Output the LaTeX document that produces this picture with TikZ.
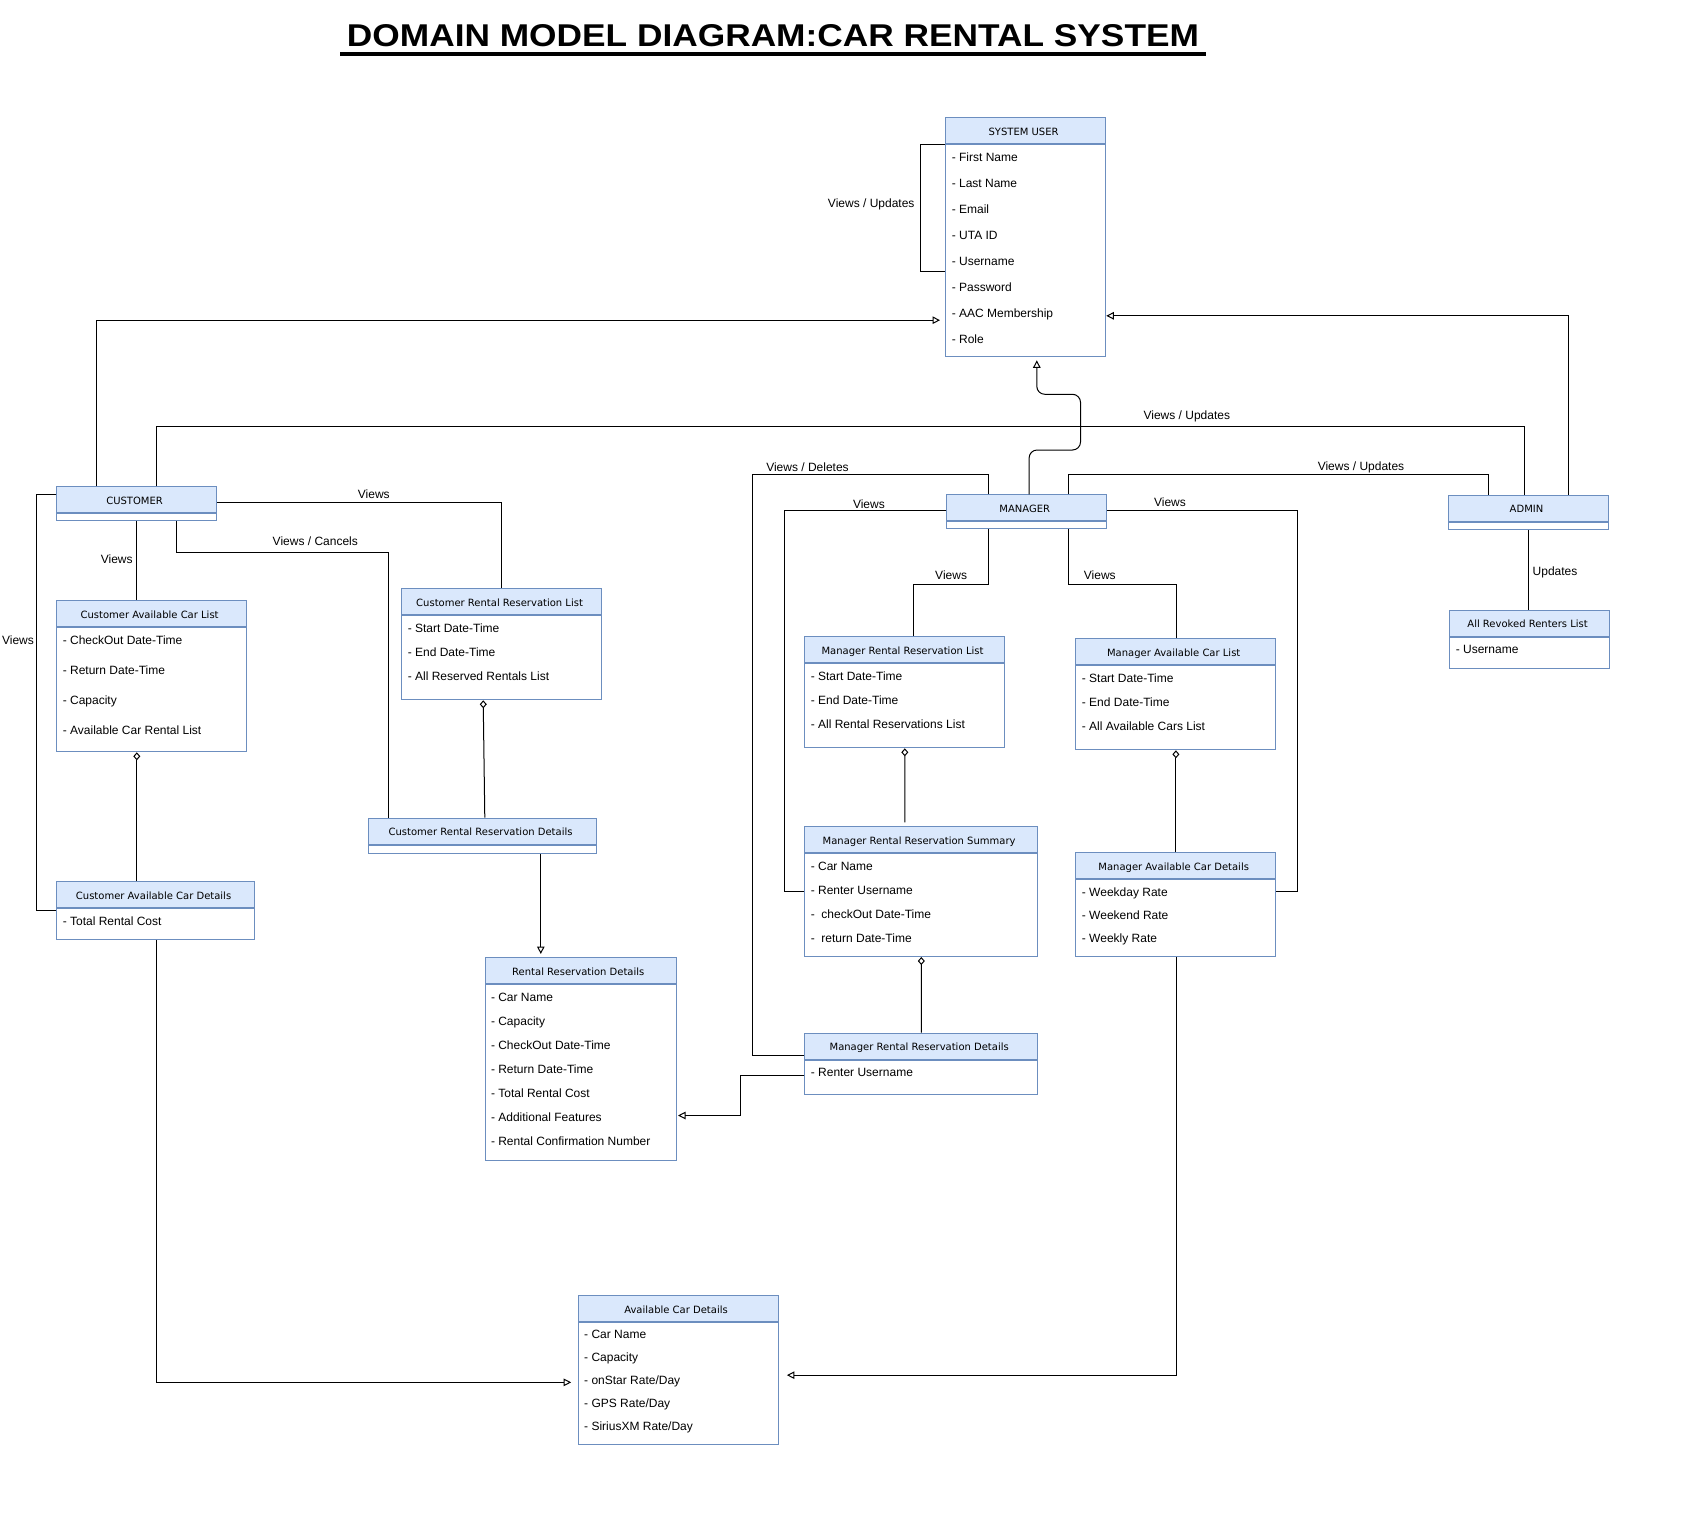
\documentclass[tikz,border=0pt]{standalone}
\usepackage{fontspec}
\setmainfont{Liberation Sans}
\newfontfamily\headfont{DejaVu Sans}
\usepackage{graphicx}
\usepackage{tikz}
\usetikzlibrary{positioning, arrows.meta}
\definecolor{umlline}{HTML}{6C8EBF}
\definecolor{umlfill}{HTML}{DAE8FC}
\tikzset{
	classhead/.style={
		draw=umlline,
		fill=umlfill,
		anchor=north west,
		inner sep=0pt,
		minimum height=26pt,
		text height=9.3pt,
		text depth=0pt,
		execute at end node={\hspace{4.4pt}},
		font={\headfont\fontsize{10}{12}\selectfont}
	},
	classbody/.style={
		draw=umlline,
		fill=white,
		inner sep=0pt,
	},
	attrs/.style={
		inner sep=0pt,
		align=left,
		font={\fontsize{12}{#1}\selectfont}
	},
	lbl/.style={
		inner sep=0pt,
		text height=8.6pt,
		text depth=0pt,
		font={\fontsize{12}{14}\selectfont}
	},
	gen/.style={-{Triangle[open,length=7.5pt,width=7.5pt]}},
	agg/.style={{Diamond[open,length=8pt,width=7pt]}-},
}

\begin{document}
\begin{tikzpicture}[x=1pt, y=-1pt, line width=1pt]
\useasboundingbox (0,0) rectangle (1694,1514);
\fill[white] (0,0) rectangle (1694,1514);

\node[anchor=base, inner xsep=6pt, inner ysep=0pt] (ttl) at (773,46.7)
	{\resizebox{852pt}{22pt}{\bfseries DOMAIN MODEL DIAGRAM:CAR RENTAL SYSTEM}};
\draw[line width=4pt] ([yshift=-7.5pt]ttl.base west) -- ([yshift=-7.5pt]ttl.base east);

% classes
\node[classhead, minimum width=160pt] (su) at (945.3,117.3) {SYSTEM USER};
\node[classbody, minimum width=160pt, minimum height=212pt, below=0pt of su] (sub) {};
\node[attrs=26, below right=-1.5pt and 6pt of sub.north west]
	{\strut- First Name\\- Last Name\\- Email\\- UTA ID\\- Username\\- Password\\- AAC Membership\\- Role};

\node[classhead, minimum width=160pt] (cust) at (56.3,486.3) {CUSTOMER};
\node[classbody, minimum width=160pt, minimum height=7pt, below=0pt of cust] (custb) {};

\node[classhead, minimum width=190pt] (cacl) at (56.3,600.3) {Customer Available Car List};
\node[classbody, minimum width=190pt, minimum height=124pt, below=0pt of cacl] (caclb) {};
\node[attrs=30, below right=-4.3pt and 6pt of caclb.north west]
	{\strut- CheckOut Date-Time\\- Return Date-Time\\- Capacity\\- Available Car Rental List};

\node[classhead, minimum width=198pt] (cacd) at (56.3,881.3) {Customer Available Car Details};
\node[classbody, minimum width=198pt, minimum height=31pt, below=0pt of cacd] (cacdb) {};
\node[attrs=24, below right=-0.1pt and 6pt of cacdb.north west] {\strut- Total Rental Cost};

\node[classhead, minimum width=200pt] (crrl) at (401.3,588.3) {Customer Rental Reservation List};
\node[classbody, minimum width=200pt, minimum height=84pt, below=0pt of crrl] (crrlb) {};
\node[attrs=24, below right=-0.5pt and 6pt of crrlb.north west]
	{\strut- Start Date-Time\\- End Date-Time\\- All Reserved Rentals List};

\node[classhead, minimum width=228pt] (crrd) at (368.3,817.7) {Customer Rental Reservation Details};
\node[classbody, minimum width=228pt, minimum height=8.6pt, below=0pt of crrd] (crrdb) {};

\node[classhead, minimum width=191pt] (rrd) at (484.5,957.3) {Rental Reservation Details};
\node[classbody, minimum width=191pt, minimum height=176pt, below=0pt of rrd] (rrdb) {};
\node[attrs=24, below right=-0.1pt and 6pt of rrdb.north west]
	{\strut- Car Name\\- Capacity\\- CheckOut Date-Time\\- Return Date-Time\\- Total Rental Cost\\- Additional Features\\- Rental Confirmation Number};

\node[classhead, minimum width=160pt] (mgr) at (946.4,494.3) {MANAGER};
\node[classbody, minimum width=160pt, minimum height=7pt, below=0pt of mgr] (mgrb) {};

\node[classhead, minimum width=200pt] (mrrl) at (804.3,636.3) {Manager Rental Reservation List};
\node[classbody, minimum width=200pt, minimum height=84pt, below=0pt of mrrl] (mrrlb) {};
\node[attrs=24, below right=-0.5pt and 6pt of mrrlb.north west]
	{\strut- Start Date-Time\\- End Date-Time\\- All Rental Reservations List};

\node[classhead, minimum width=233pt] (mrrs) at (804.3,826.3) {Manager Rental Reservation Summary};
\node[classbody, minimum width=233pt, minimum height=102.7pt, below=0pt of mrrs] (mrrsb) {};
\node[attrs=24, below right=-0.1pt and 6pt of mrrsb.north west]
	{\strut- Car Name\\- Renter Username\\-~ checkOut Date-Time\\-~ return Date-Time};

\node[classhead, minimum width=233pt] (mrrd) at (804.4,1032.7) {Manager Rental Reservation Details};
\node[classbody, minimum width=233pt, minimum height=34.6pt, below=0pt of mrrd] (mrrdb) {};
\node[attrs=24, below right=-0.1pt and 6pt of mrrdb.north west] {\strut- Renter Username};

\node[classhead, minimum width=200pt] (macl) at (1075.4,638.3) {Manager Available Car List};
\node[classbody, minimum width=200pt, minimum height=84pt, below=0pt of macl] (maclb) {};
\node[attrs=24, below right=-0.1pt and 6pt of maclb.north west]
	{\strut- Start Date-Time\\- End Date-Time\\- All Available Cars List};

\node[classhead, minimum width=200pt] (macd) at (1075.4,852.3) {Manager Available Car Details};
\node[classbody, minimum width=200pt, minimum height=76.7pt, below=0pt of macd] (macdb) {};
\node[attrs=23, below right=0.6pt and 6pt of macdb.north west]
	{\strut- Weekday Rate\\- Weekend Rate\\- Weekly Rate};

\node[classhead, minimum width=160pt] (admin) at (1448.2,494.6) {ADMIN};
\node[classbody, minimum width=160pt, minimum height=7.6pt, below=0pt of admin] (adminb) {};

\node[classhead, minimum width=160pt] (arrl) at (1449.3,609.6) {All Revoked Renters List};
\node[classbody, minimum width=160pt, minimum height=31.5pt, below=0pt of arrl] (arrlb) {};
\node[attrs=24, below right=-0.3pt and 6pt of arrlb.north west] {\strut- Username};

\node[classhead, minimum width=200pt] (acd) at (577.7,1295) {Available Car Details};
\node[classbody, minimum width=200pt, minimum height=121.7pt, below=0pt of acd] (acdb) {};
\node[attrs=23, below right=0.2pt and 6pt of acdb.north west]
	{\strut- Car Name\\- Capacity\\- onStar Rate/Day\\- GPS Rate/Day\\- SiriusXM Rate/Day};

% connectors
\draw[gen] ([xshift=-40pt]cust.north) |- ([xshift=-5.3pt,yshift=-69.4pt]sub.west);
\draw[gen] ([xshift=40pt]admin.north) |- ([yshift=-65pt]sub.east);
\draw[gen, rounded corners=8pt] ([xshift=2.2pt]mgr.north) -- ++(0,-44.3) -- ++(51.4,0)
	-- ++(0,-55.7) -- ++(-43.7,0) -- ([xshift=11pt,yshift=-3pt]sub.south);
\draw (su.south west) -- ++(-25,0) |- ([yshift=-21pt]sub.west);

\draw (custb.south) -- (custb.south |- cacl.north);
\draw ([xshift=40pt]custb.south) -- ++(0,30.7) -| ([xshift=-94pt]crrd.north);
\draw ([yshift=-3pt]cust.east) -| (crrl.north);
\draw ([yshift=5.3pt]cust.west) -- ++(-20,0) |- ([yshift=-15.7pt]cacd.west);
\draw ([xshift=20pt]cust.north) -- ++(0,-60.2) -| ([xshift=-4pt]admin.north);
\draw[agg] ([xshift=-15pt]caclb.south) -- ([xshift=-19pt]cacd.north);
\draw[gen] ([xshift=1pt]cacdb.south) |- ([xshift=-6.5pt,yshift=1pt]acdb.west);
\draw[agg] ([xshift=-18.6pt]crrlb.south) -- ([xshift=2pt]crrd.north);
\draw[gen] ([xshift=58pt]crrdb.south) -- ([xshift=-39.7pt,yshift=3.3pt]rrd.north);

\draw ([xshift=-38.2pt]mgr.north) |- ++(-235.8,-20) |- ([yshift=-8.8pt]mrrd.west);
\draw ([yshift=-3pt]mgr.west) -- ++(-162.1,0) |- ([yshift=13.7pt]mrrsb.west);
\draw ([yshift=-3pt]mgr.east) -- ++(190,0) |- ([yshift=26.3pt]macdb.east);
\draw ([xshift=-38.2pt]mgrb.south) -- ++(0,55) -| ([xshift=8.5pt]mrrl.north);
\draw ([xshift=41.8pt]mgrb.south) -- ++(0,55) -| ([xshift=1pt]macl.north);
\draw ([xshift=41.8pt]mgr.north) -- ++(0,-20) -| ([xshift=-40pt]admin.north);
\draw (adminb.south) -- (adminb.south |- arrl.north);

\draw[agg] (mrrlb.south) -- ([xshift=-16.4pt,yshift=4pt]mrrs.north);
\draw[agg] (mrrsb.south) -- (mrrd.north);
\draw[gen] ([yshift=1.7pt]mrrdb.west) -- ++(-63.9,0) |- ([xshift=1.5pt,yshift=-42.7pt]rrdb.east);
\draw[agg] (maclb.south) -- (macd.north);
\draw[gen] ([xshift=1pt]macdb.south) |- ([xshift=8.2pt,yshift=8.2pt]acdb.east);

% labels
\node[lbl] (l1) at (871.2,203.3) {Views / Updates};
\node[lbl] (l2) at (373.8,493.7) {Views};
\node[lbl] (l3) at (315.3,540.7) {Views / Cancels};
\node[lbl] (l4) at (116.7,559.3) {Views};
\node[lbl] (l5) at (18,640.3) {Views};
\node[lbl] (l6) at (1186.8,415.4) {Views / Updates};
\node[lbl] (l7) at (807.5,466.7) {Views / Deletes};
\node[lbl] (l8) at (1361,466.4) {Views / Updates};
\node[lbl] (l9) at (868.9,504.3) {Views};
\node[lbl] (l10) at (1170,502.5) {Views};
\node[lbl] (l11) at (951.1,574.7) {Views};
\node[lbl] (l12) at (1099.8,574.7) {Views};
\node[lbl] (l13) at (1555,570.7) {Updates};
\end{tikzpicture}
\end{document}
